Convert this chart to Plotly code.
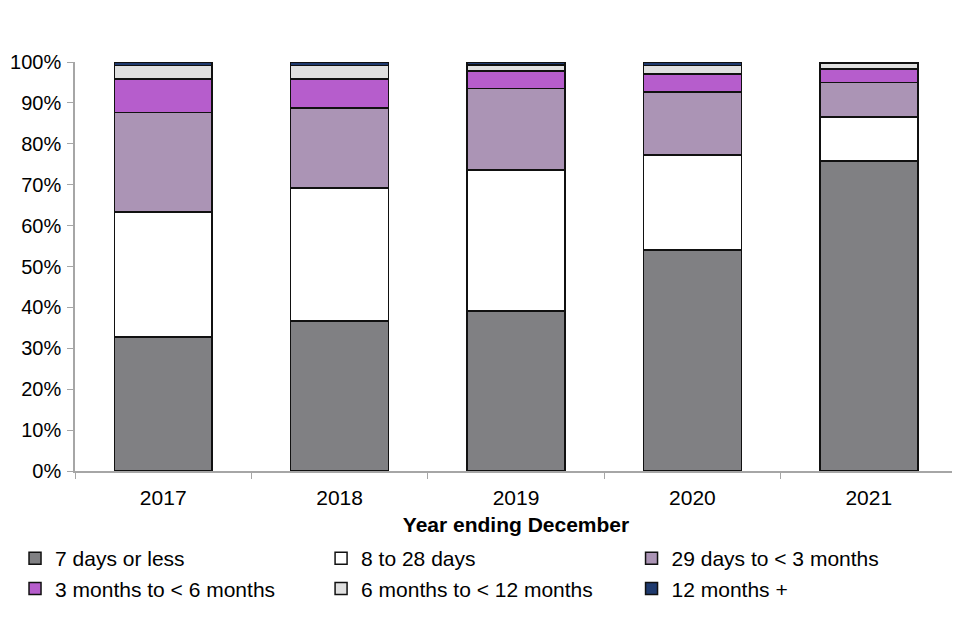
import plotly.graph_objects as go

years = ["2017", "2018", "2019", "2020", "2021"]
series_names = ["7 days or less", "8 to 28 days", "29 days to < 3 months",
                "3 months to < 6 months", "6 months to < 12 months", "12 months +"]
v_7days = [32.8, 36.7, 39.1, 54.0, 75.8]
v_8to28 = [30.5, 32.5, 34.5, 23.3, 10.8]
v_29to3m = [24.4, 19.6, 19.9, 15.4, 8.4]
v_3to6m = [8.1, 7.0, 4.3, 4.4, 3.3]
v_6to12m = [3.4, 3.3, 1.5, 2.0, 1.3]
v_12plus = [0.8, 0.9, 0.7, 0.9, 0.4]
colors = ["#808083", "#ffffff", "#ab94b5", "#b65dcc", "#e0e0e0", "#1f3a6e"]
legend_ids = ["legend", "legend2", "legend3", "legend", "legend2", "legend3"]

values = [v_7days, v_8to28, v_29to3m, v_3to6m, v_6to12m, v_12plus]

FAM = "Liberation Sans, Arial, sans-serif"

fig = go.Figure()
for name, vals, col, lg in zip(series_names, values, colors, legend_ids):
    fig.add_trace(go.Bar(
        x=years, y=vals, name=name, legend=lg,
        marker=dict(color=col, line=dict(color="#111111", width=1.5)),
    ))

legend_common = dict(
    orientation="v", yanchor="top", xanchor="left", y=-0.164,
    font=dict(family=FAM, size=21, color="#000000"),
    traceorder="normal", tracegroupgap=0, bgcolor="rgba(0,0,0,0)",
)

fig.update_layout(
    barmode="stack",
    bargap=0.445,
    width=960, height=640,
    margin=dict(l=67, r=11, t=54, b=177, autoexpand=False),
    plot_bgcolor="#ffffff", paper_bgcolor="#ffffff",
    font=dict(family=FAM, size=21, color="#000000"),
    showlegend=True,
    legend=dict(x=-0.068, **legend_common),
    legend2=dict(x=0.279, **legend_common),
    legend3=dict(x=0.631, **legend_common),
    xaxis=dict(
        title=dict(text="<b>Year ending December</b>", standoff=9,
                   font=dict(family=FAM, size=21)),
        showline=True, linecolor="#a6a6a6", linewidth=1.5,
        ticks="outside", tickson="boundaries", ticklen=6, tickcolor="#a6a6a6",
        ticklabelstandoff=7,
        showgrid=False,
    ),
    yaxis=dict(
        range=[0, 100], dtick=10, ticksuffix="%",
        tickfont=dict(family=FAM, size=20),
        showline=True, linecolor="#a6a6a6", linewidth=1.5,
        ticks="outside", ticklen=6, tickcolor="#a6a6a6",
        ticklabelstandoff=2,
        showgrid=False, zeroline=False,
    ),
)

fig.write_html("out.html")
